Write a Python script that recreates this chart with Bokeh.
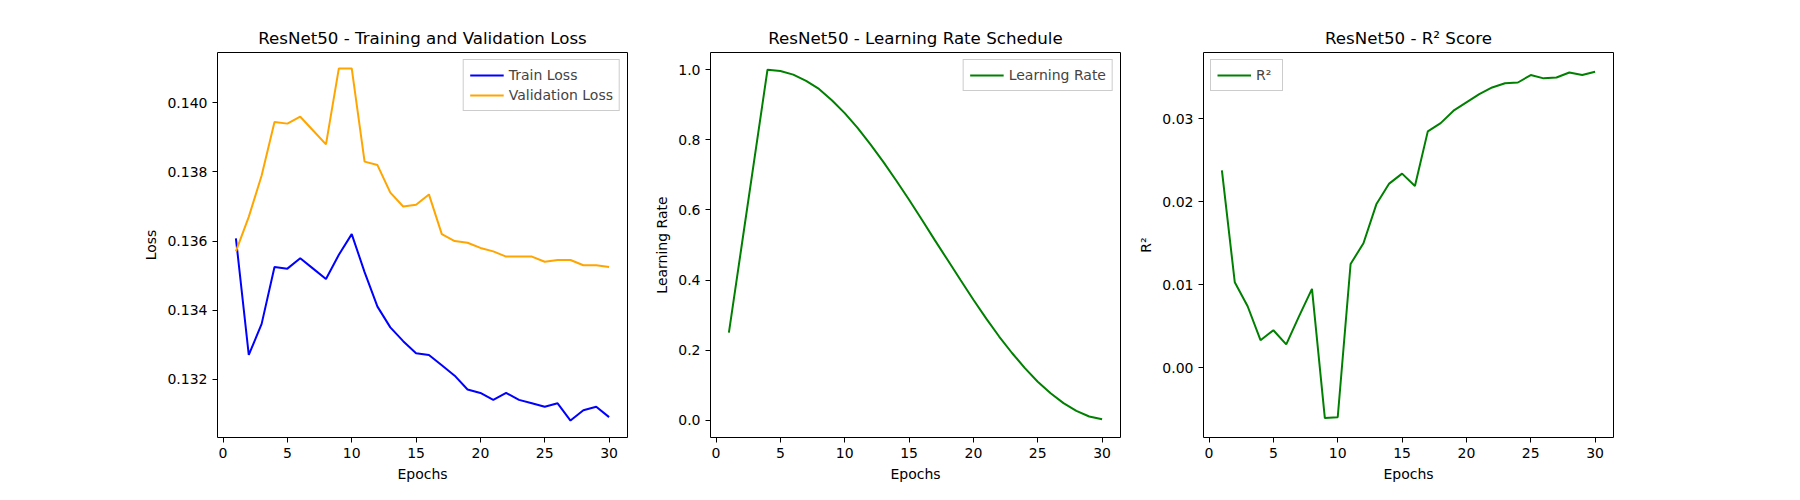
from bokeh.plotting import figure
from bokeh.layouts import row
from bokeh.models import Range1d, FixedTicker, Legend, LegendItem, Label, CustomJSTickFormatter
from bokeh.embed import file_html
from bokeh.resources import INLINE

epochs = list(range(1, 31))
train_loss = [0.13608, 0.1327, 0.1336, 0.13525, 0.1352, 0.1355, 0.1352, 0.1349, 0.1356, 0.1362,
              0.1351, 0.1341, 0.1335, 0.1331, 0.13275, 0.1327, 0.1324, 0.1321, 0.1317, 0.1316,
              0.1314, 0.1316, 0.1314, 0.1313, 0.1312, 0.1313, 0.1308, 0.1311, 0.1312, 0.1309]
val_loss = [0.1357, 0.1367, 0.1379, 0.13945, 0.1394, 0.1396, 0.1392, 0.1388, 0.1410, 0.1410,
            0.1383, 0.1382, 0.1374, 0.1370, 0.13705, 0.13735, 0.1362, 0.1360, 0.13595, 0.1358,
            0.1357, 0.13555, 0.13555, 0.13555, 0.1354, 0.13545, 0.13545, 0.1353, 0.1353, 0.13525]
# learning rate in units of 1e-6
lr_e6 = [0.25, 0.50, 0.75, 1.0, 0.996, 0.986, 0.968, 0.945, 0.913, 0.876,
         0.834, 0.787, 0.737, 0.684, 0.629, 0.572, 0.514, 0.457, 0.400, 0.344,
         0.290, 0.239, 0.192, 0.149, 0.110, 0.077, 0.049, 0.027, 0.011, 0.003]
r2 = [0.0238, 0.0103, 0.0074, 0.0033, 0.0045, 0.0028, 0.0062, 0.0095, -0.0061, -0.0060,
      0.0125, 0.0150, 0.0197, 0.0222, 0.0234, 0.0219, 0.0285, 0.0295, 0.0310, 0.0320,
      0.0330, 0.0338, 0.0343, 0.0344, 0.0353, 0.0349, 0.0350, 0.0356, 0.0353, 0.0357]

FONT = "DejaVu Sans"
FW, FH = 410, 386
TOP, BOTTOM = 52, 46


def make_fig(title, ylabel, yr, yticks, fmt, left, right):
    p = figure(width=left + FW + right, height=TOP + FH + BOTTOM, output_backend="svg",
               toolbar_location=None, x_range=Range1d(-0.43, 31.43), y_range=Range1d(*yr),
               min_border_left=left, min_border_right=right, min_border_top=TOP,
               min_border_bottom=BOTTOM)
    p.title.text = title
    p.title.align = "center"
    p.title.text_font = FONT
    p.title.text_font_size = "12.5pt"
    p.title.text_font_style = "normal"
    p.title.text_color = "black"
    p.xgrid.visible = False
    p.ygrid.visible = False
    p.outline_line_color = "black"
    p.xaxis.ticker = FixedTicker(ticks=[0, 5, 10, 15, 20, 25, 30])
    p.yaxis.ticker = FixedTicker(ticks=yticks)
    p.yaxis.formatter = CustomJSTickFormatter(code=f"return tick.toFixed({fmt});")
    p.xaxis.axis_label = "Epochs"
    p.yaxis.axis_label = ylabel
    for ax in (p.xaxis[0], p.yaxis[0]):
        ax.axis_label_text_font = FONT
        ax.axis_label_text_font_style = "normal"
        ax.axis_label_text_font_size = "10.5pt"
        ax.axis_label_text_color = "black"
        ax.major_label_text_font = FONT
        ax.major_label_text_font_size = "10.5pt"
        ax.major_label_text_color = "black"
        ax.minor_tick_line_color = None
        ax.major_tick_in = 0
        ax.major_tick_out = 5
        ax.axis_line_color = None
    return p


def add_legend(p, items, loc):
    lg = Legend(items=items, location=loc, label_text_font=FONT, label_text_font_size="10.5pt",
                border_line_color="#cccccc", border_line_alpha=1, background_fill_alpha=0.8,
                padding=6, spacing=2, glyph_width=34, label_height=18, glyph_height=18, margin=7)
    p.add_layout(lg)


p1 = make_fig("ResNet50 - Training and Validation Loss", "Loss", (0.13031, 0.14146),
              [0.132, 0.134, 0.136, 0.138, 0.140], 3, 217, 10)
a = p1.line(epochs, train_loss, color="blue", line_width=2)
b = p1.line(epochs, val_loss, color="orange", line_width=2)
add_legend(p1, [LegendItem(label="Train Loss", renderers=[a]),
                LegendItem(label="Validation Loss", renderers=[b])], "top_right")

p2 = make_fig("ResNet50 - Learning Rate Schedule", "Learning Rate", (-0.049, 1.049),
              [0.0, 0.2, 0.4, 0.6, 0.8, 1.0], 1, 73, 10)
c = p2.line(epochs, lr_e6, color="green", line_width=2)
add_legend(p2, [LegendItem(label="Learning Rate", renderers=[c])], "top_right")
p2.add_layout(Label(x=0, y=FH, x_units="screen", y_units="screen", text="1e−6",
                    text_font=FONT, text_font_size="10.5pt", y_offset=3))

p3 = make_fig("ResNet50 - R² Score", "R²", (-0.00844, 0.03802),
              [0.00, 0.01, 0.02, 0.03], 2, 73, 10)
d = p3.line(epochs, r2, color="green", line_width=2)
add_legend(p3, [LegendItem(label="R²", renderers=[d])], "top_left")

layout = row(p1, p2, p3)
open("out.html", "w").write(file_html(layout, INLINE))
